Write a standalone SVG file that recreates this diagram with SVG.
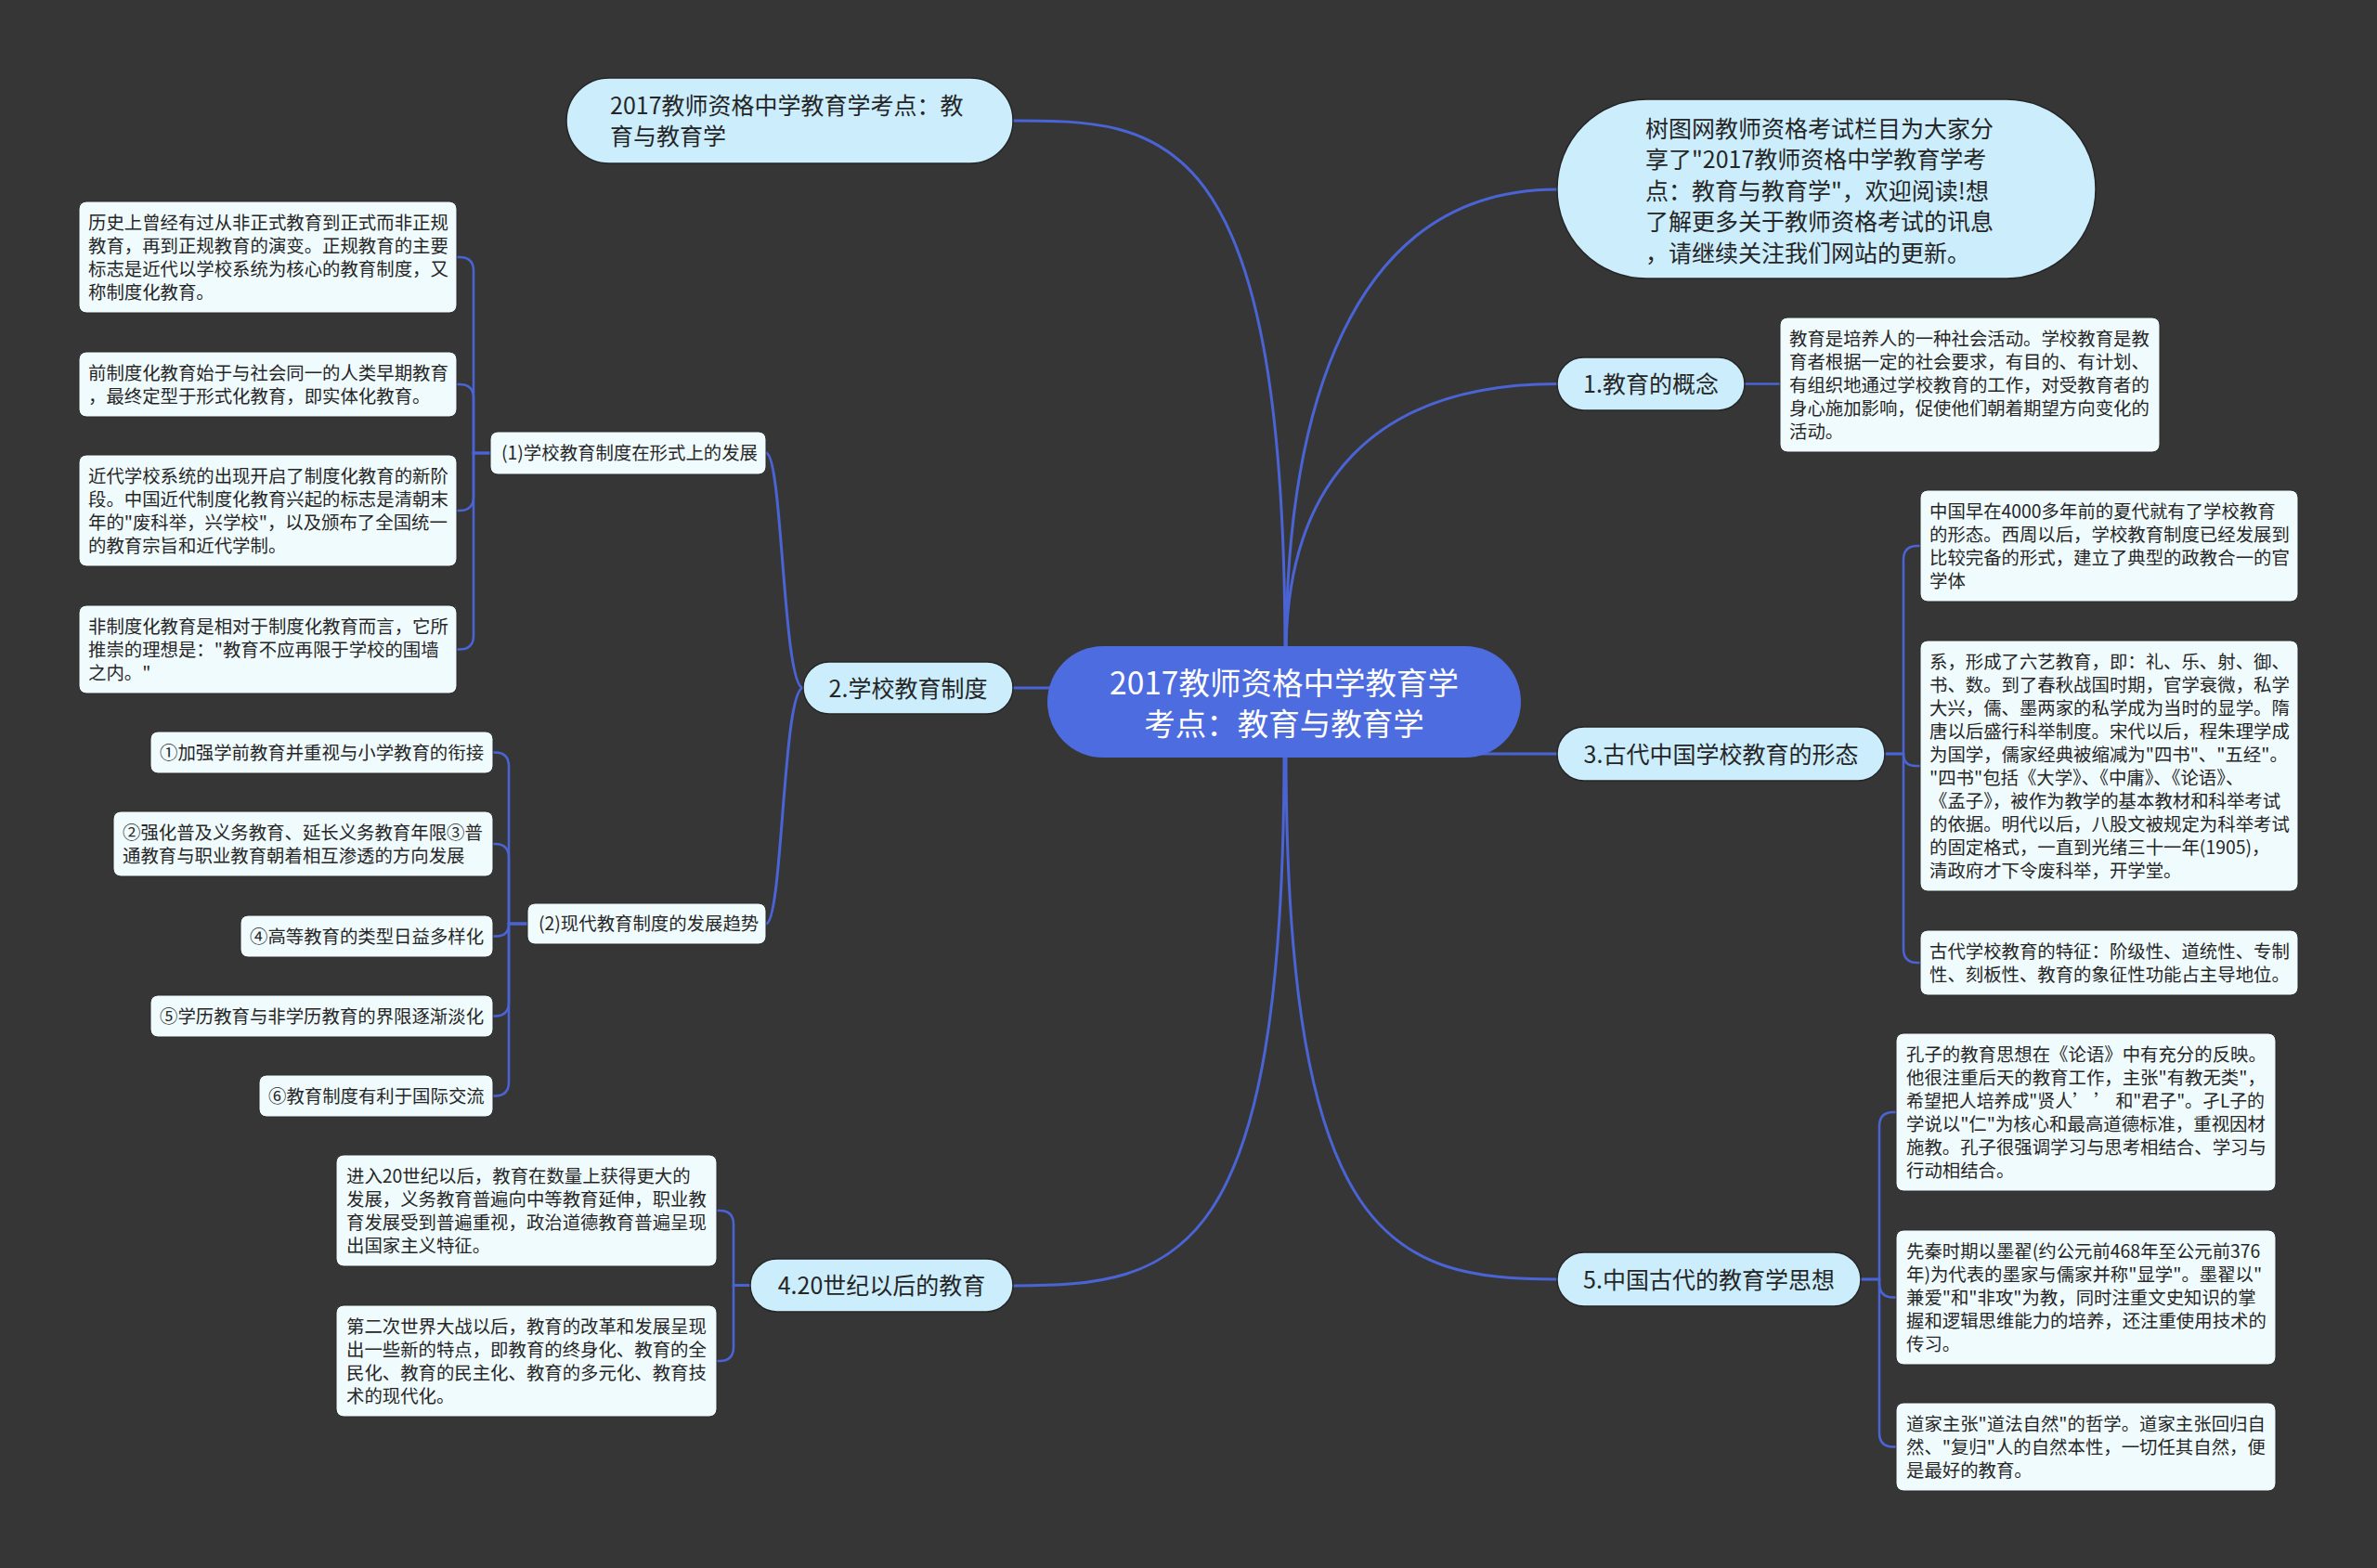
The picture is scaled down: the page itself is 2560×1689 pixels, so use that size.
<svg xmlns="http://www.w3.org/2000/svg" width="2560" height="1689" viewBox="0 0 2560 1689">
<style>
text{font-family:"Noto Sans CJK SC","Noto Sans",sans-serif;fill:#262626}
.root rect{fill:#4d6ce0}
.root text{fill:#ffffff;font-size:33.5px;text-anchor:middle}
.l1 rect{fill:#cbedfc;stroke:#262626;stroke-width:1.5}
.l1 text{font-size:25px}
.l2 rect,.leaf rect{fill:#f0fbfd;stroke:#2a2a2a;stroke-width:1}
.l2 text,.leaf text{font-size:19.4px}
.c text{text-anchor:middle}
#connectors path{fill:none;stroke:#4a64d6;stroke-width:3;stroke-linecap:round}
#connectors .thin{stroke-width:2.5}
</style>
<rect width="2560" height="1689" fill="#373636"/>
<g id="connectors">
<path d="M1384 705 C1384 130 1250 130 1091 130"/>
<path d="M1385 705 C1385 450 1450 204 1677 204"/>
<path d="M1385 705 C1385 520 1480 413.5 1677 413.5"/>
<path d="M1091 741 H1140"/>
<path d="M1580 812 H1677"/>
<path d="M1383 808 C1383 1360 1270 1385 1091 1385"/>
<path d="M1385 808 C1385 1340 1500 1378 1677 1378"/>
<path d="M865 741 C843 741 843 488 825 488"/>
<path d="M865 741 C843 741 843 995 825 995"/>
<path class="thin" d="M528 488 H510 V292 Q510 277 495 277 H492"/>
<path class="thin" d="M528 488 H510 V429 Q510 414 495 414 H492"/>
<path class="thin" d="M528 488 H510 V535 Q510 550 495 550 H492"/>
<path class="thin" d="M528 488 H510 V684.5 Q510 699.5 495 699.5 H492"/>
<path class="thin" d="M568 995 H548 V825.5 Q548 810.5 533 810.5 H531"/>
<path class="thin" d="M568 995 H548 V924 Q548 909 533 909 H531"/>
<path class="thin" d="M568 995 H548 Q548 1008.5 534.5 1008.5 H531"/>
<path class="thin" d="M568 995 H548 V1079.5 Q548 1094.5 533 1094.5 H531"/>
<path class="thin" d="M568 995 H548 V1165.5 Q548 1180.5 533 1180.5 H531"/>
<path class="thin" d="M808 1384.5 H790 V1319 Q790 1304 775 1304 H772"/>
<path class="thin" d="M808 1384.5 H790 V1451 Q790 1466 775 1466 H772"/>
<path class="thin" d="M1879 413.5 H1917"/>
<path class="thin" d="M2030 812 H2050 V603 Q2050 588 2065 588 H2068"/>
<path class="thin" d="M2030 812 H2050 Q2050 825 2063 825 H2068"/>
<path class="thin" d="M2030 812 H2050 V1022 Q2050 1037 2065 1037 H2068"/>
<path class="thin" d="M2004 1378 H2024 V1213 Q2024 1198 2039 1198 H2042"/>
<path class="thin" d="M2004 1378 H2024 V1382.5 Q2024 1397.5 2039 1397.5 H2042"/>
<path class="thin" d="M2004 1378 H2024 V1543.5 Q2024 1558.5 2039 1558.5 H2042"/>
</g>
<g id="root" class="root">
<rect x="1128" y="696" width="510" height="120" rx="60"/>
<text x="1383" y="748">2017教师资格中学教育学</text>
<text x="1383" y="792">考点：教育与教育学</text>
</g>
<g id="n-title" class="l1">
<rect x="610" y="84" width="481" height="92" rx="46"/>
<text x="657" y="123"><tspan x="657">2017教师资格中学教育学考点：教</tspan><tspan x="657" dy="33">育与教育学</tspan></text>
</g>
<g id="n-intro" class="l1">
<rect x="1677" y="107" width="580" height="193" rx="96"/>
<text x="1772" y="148"><tspan x="1772">树图网教师资格考试栏目为大家分</tspan><tspan x="1772" dy="33.4">享了"2017教师资格中学教育学考</tspan><tspan x="1772" dy="33.4">点：教育与教育学"，欢迎阅读!想</tspan><tspan x="1772" dy="33.4">了解更多关于教师资格考试的讯息</tspan><tspan x="1772" dy="33.4">，请继续关注我们网站的更新。</tspan></text>
</g>
<g id="n1" class="l1 c">
<rect x="1677" y="385" width="202" height="57" rx="28.5"/>
<text x="1778" y="423">1.教育的概念</text>
</g>
<g id="n2" class="l1 c">
<rect x="865" y="713" width="226" height="56" rx="28"/>
<text x="978" y="750.5">2.学校教育制度</text>
</g>
<g id="n3" class="l1 c">
<rect x="1677" y="783" width="353" height="58" rx="29"/>
<text x="1853.5" y="821.5">3.古代中国学校教育的形态</text>
</g>
<g id="n4" class="l1 c">
<rect x="808" y="1356" width="283" height="57" rx="28.5"/>
<text x="949.5" y="1394">4.20世纪以后的教育</text>
</g>
<g id="n5" class="l1 c">
<rect x="1677" y="1349" width="327" height="58" rx="29"/>
<text x="1840.5" y="1387.5">5.中国古代的教育学思想</text>
</g>
<g id="n2-1" class="l2">
<rect x="528" y="465" width="297" height="46" rx="8"/>
<text x="540" y="495.4">(1)学校教育制度在形式上的发展</text>
</g>
<g id="n2-2" class="l2">
<rect x="568" y="973" width="257" height="44" rx="8"/>
<text x="580" y="1002.4">(2)现代教育制度的发展趋势</text>
</g>
<g id="n2-1-a" class="leaf">
<rect x="85" y="217" width="407" height="120" rx="8"/>
<text x="95" y="246.5"><tspan x="95">历史上曾经有过从非正式教育到正式而非正规</tspan><tspan x="95" dy="25">教育，再到正规教育的演变。正规教育的主要</tspan><tspan x="95" dy="25">标志是近代以学校系统为核心的教育制度，又</tspan><tspan x="95" dy="25">称制度化教育。</tspan></text>
</g>
<g id="n2-1-b" class="leaf">
<rect x="85" y="379" width="407" height="70" rx="8"/>
<text x="95" y="408.5"><tspan x="95">前制度化教育始于与社会同一的人类早期教育</tspan><tspan x="95" dy="25">，最终定型于形式化教育，即实体化教育。</tspan></text>
</g>
<g id="n2-1-c" class="leaf">
<rect x="85" y="490" width="407" height="120" rx="8"/>
<text x="95" y="519.5"><tspan x="95">近代学校系统的出现开启了制度化教育的新阶</tspan><tspan x="95" dy="25">段。中国近代制度化教育兴起的标志是清朝末</tspan><tspan x="95" dy="25">年的"废科举，兴学校"，以及颁布了全国统一</tspan><tspan x="95" dy="25">的教育宗旨和近代学制。</tspan></text>
</g>
<g id="n2-1-d" class="leaf">
<rect x="85" y="652" width="407" height="95" rx="8"/>
<text x="95" y="681.5"><tspan x="95">非制度化教育是相对于制度化教育而言，它所</tspan><tspan x="95" dy="25">推崇的理想是："教育不应再限于学校的围墙</tspan><tspan x="95" dy="25">之内。"</tspan></text>
</g>
<g id="n2-2-a" class="leaf">
<rect x="162" y="788" width="369" height="45" rx="8"/>
<text x="172" y="817.5">①加强学前教育并重视与小学教育的衔接</text>
</g>
<g id="n2-2-b" class="leaf">
<rect x="122" y="874" width="409" height="70" rx="8"/>
<text x="132" y="903.5"><tspan x="132">②强化普及义务教育、延长义务教育年限③普</tspan><tspan x="132" dy="25">通教育与职业教育朝着相互渗透的方向发展</tspan></text>
</g>
<g id="n2-2-c" class="leaf">
<rect x="259" y="986" width="272" height="45" rx="8"/>
<text x="269" y="1015.5">④高等教育的类型日益多样化</text>
</g>
<g id="n2-2-d" class="leaf">
<rect x="162" y="1072" width="369" height="45" rx="8"/>
<text x="172" y="1101.5">⑤学历教育与非学历教育的界限逐渐淡化</text>
</g>
<g id="n2-2-e" class="leaf">
<rect x="279" y="1158" width="252" height="45" rx="8"/>
<text x="289" y="1187.5">⑥教育制度有利于国际交流</text>
</g>
<g id="n4-a" class="leaf">
<rect x="362" y="1244" width="410" height="120" rx="8"/>
<text x="373" y="1273.5"><tspan x="373">进入20世纪以后，教育在数量上获得更大的</tspan><tspan x="373" dy="25">发展，义务教育普遍向中等教育延伸，职业教</tspan><tspan x="373" dy="25">育发展受到普遍重视，政治道德教育普遍呈现</tspan><tspan x="373" dy="25">出国家主义特征。</tspan></text>
</g>
<g id="n4-b" class="leaf">
<rect x="362" y="1406" width="410" height="120" rx="8"/>
<text x="373" y="1435.5"><tspan x="373">第二次世界大战以后，教育的改革和发展呈现</tspan><tspan x="373" dy="25">出一些新的特点，即教育的终身化、教育的全</tspan><tspan x="373" dy="25">民化、教育的民主化、教育的多元化、教育技</tspan><tspan x="373" dy="25">术的现代化。</tspan></text>
</g>
<g id="n1-a" class="leaf">
<rect x="1917" y="342" width="409" height="145" rx="8"/>
<text x="1927" y="371.5"><tspan x="1927">教育是培养人的一种社会活动。学校教育是教</tspan><tspan x="1927" dy="25">育者根据一定的社会要求，有目的、有计划、</tspan><tspan x="1927" dy="25">有组织地通过学校教育的工作，对受教育者的</tspan><tspan x="1927" dy="25">身心施加影响，促使他们朝着期望方向变化的</tspan><tspan x="1927" dy="25">活动。</tspan></text>
</g>
<g id="n3-a" class="leaf">
<rect x="2068" y="528" width="407" height="120" rx="8"/>
<text x="2078" y="557.5"><tspan x="2078">中国早在4000多年前的夏代就有了学校教育</tspan><tspan x="2078" dy="25">的形态。西周以后，学校教育制度已经发展到</tspan><tspan x="2078" dy="25">比较完备的形式，建立了典型的政教合一的官</tspan><tspan x="2078" dy="25">学体</tspan></text>
</g>
<g id="n3-b" class="leaf">
<rect x="2068" y="690" width="407" height="270" rx="8"/>
<text x="2078" y="719.5"><tspan x="2078">系，形成了六艺教育，即：礼、乐、射、御、</tspan><tspan x="2078" dy="25">书、数。到了春秋战国时期，官学衰微，私学</tspan><tspan x="2078" dy="25">大兴，儒、墨两家的私学成为当时的显学。隋</tspan><tspan x="2078" dy="25">唐以后盛行科举制度。宋代以后，程朱理学成</tspan><tspan x="2078" dy="25">为国学，儒家经典被缩减为"四书"、"五经"。</tspan><tspan x="2078" dy="25">"四书"包括《大学》、《中庸》、《论语》、</tspan><tspan x="2078" dy="25">《孟子》，被作为教学的基本教材和科举考试</tspan><tspan x="2078" dy="25">的依据。明代以后，八股文被规定为科举考试</tspan><tspan x="2078" dy="25">的固定格式，一直到光绪三十一年(1905)，</tspan><tspan x="2078" dy="25">清政府才下令废科举，开学堂。</tspan></text>
</g>
<g id="n3-c" class="leaf">
<rect x="2068" y="1002" width="407" height="70" rx="8"/>
<text x="2078" y="1031.5"><tspan x="2078">古代学校教育的特征：阶级性、道统性、专制</tspan><tspan x="2078" dy="25">性、刻板性、教育的象征性功能占主导地位。</tspan></text>
</g>
<g id="n5-a" class="leaf">
<rect x="2042" y="1113" width="409" height="170" rx="8"/>
<text x="2053" y="1142.5"><tspan x="2053">孔子的教育思想在《论语》中有充分的反映。</tspan><tspan x="2053" dy="25">他很注重后天的教育工作，主张"有教无类"，</tspan></text>
<text x="2053" y="1192.5" textLength="386" lengthAdjust="spacingAndGlyphs">希望把人培养成"贤人’ ’ 和"君子"。孑L子的</text>
<text x="2053" y="1217.5"><tspan x="2053">学说以"仁"为核心和最高道德标准，重视因材</tspan><tspan x="2053" dy="25">施教。孔子很强调学习与思考相结合、学习与</tspan><tspan x="2053" dy="25">行动相结合。</tspan></text>
</g>
<g id="n5-b" class="leaf">
<rect x="2042" y="1325" width="409" height="145" rx="8"/>
<text x="2053" y="1354.5"><tspan x="2053">先秦时期以墨翟(约公元前468年至公元前376</tspan><tspan x="2053" dy="25">年)为代表的墨家与儒家并称"显学"。墨翟以"</tspan><tspan x="2053" dy="25">兼爱"和"非攻"为教，同时注重文史知识的掌</tspan><tspan x="2053" dy="25">握和逻辑思维能力的培养，还注重使用技术的</tspan><tspan x="2053" dy="25">传习。</tspan></text>
</g>
<g id="n5-c" class="leaf">
<rect x="2042" y="1511" width="409" height="95" rx="8"/>
<text x="2053" y="1540.5"><tspan x="2053">道家主张"道法自然"的哲学。道家主张回归自</tspan><tspan x="2053" dy="25">然、"复归"人的自然本性，一切任其自然，便</tspan><tspan x="2053" dy="25">是最好的教育。</tspan></text>
</g>
</svg>
